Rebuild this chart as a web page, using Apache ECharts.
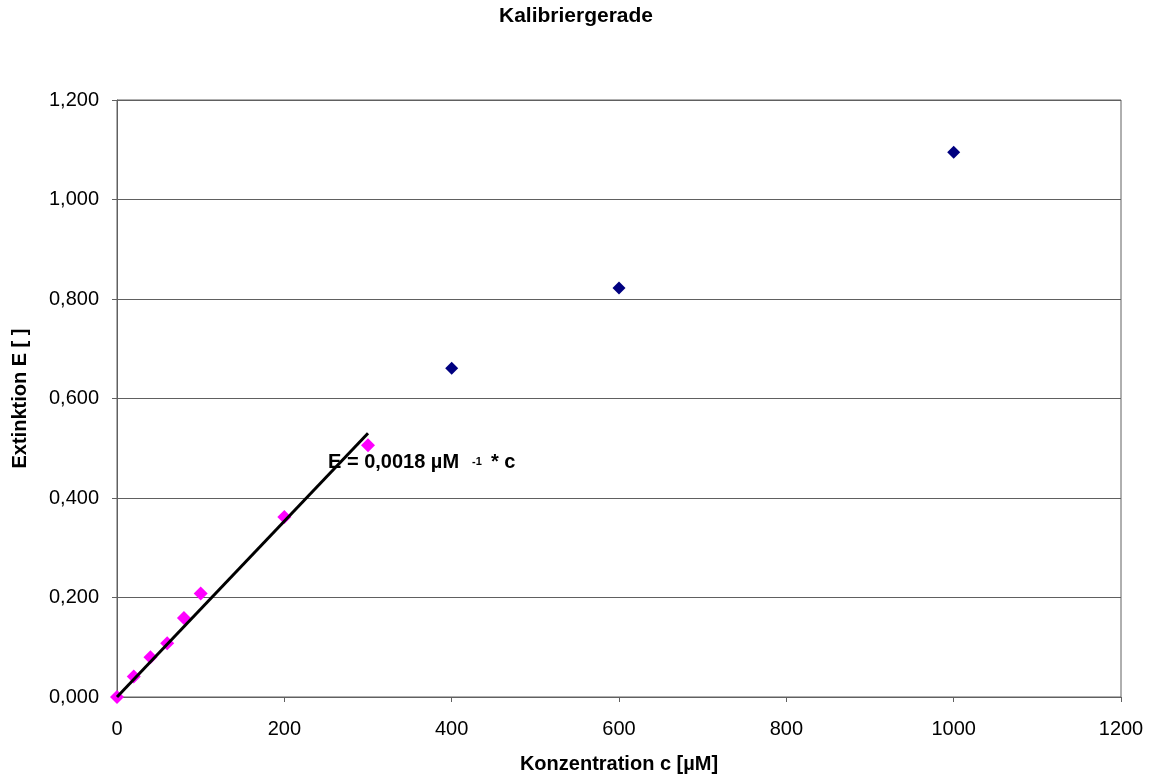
<!DOCTYPE html>
<html><head><meta charset="utf-8">
<script src="https://cdn.jsdelivr.net/npm/echarts@6/dist/echarts.min.js"></script>
<style>html,body{margin:0;padding:0;background:#fff}#c{width:1152px;height:782px}</style>
</head><body><div id="c"></div>
<script>
const calibX = [0, 20, 40, 60, 80, 100, 200, 300];
const calibY = [0.000, 0.041, 0.080, 0.108, 0.159, 0.208, 0.362, 0.506];
const highX = [400, 600, 1000];
const highY = [0.661, 0.822, 1.095];
const fitX = [0, 300];
const fitY = [0, 0.53];
const xTicks = [0, 200, 400, 600, 800, 1000, 1200];
const yTicks = [0, 0.2, 0.4, 0.6, 0.8, 1.0, 1.2];

const zip = (a, b) => a.map((v, i) => [v, b[i]]);
const font = '"Liberation Sans", Arial, sans-serif';
const gridCol = '#606060';
const chart = echarts.init(document.getElementById('c'));
chart.setOption({
  animation: false,
  backgroundColor: '#fff',
  title: {
    text: 'Kalibriergerade', left: 'center', top: 6, padding: 0,
    textStyle: { fontFamily: font, fontSize: 21, fontWeight: 'bold', color: '#000' }
  },
  grid: { left: 117, right: 31, top: 100, bottom: 85, show: true, borderColor: gridCol, borderWidth: 1 },
  xAxis: {
    type: 'value', min: xTicks[0], max: xTicks[xTicks.length - 1], interval: 200,
    name: 'Konzentration c [µM]', nameLocation: 'middle', nameGap: 57,
    nameTextStyle: { fontFamily: font, fontSize: 20, fontWeight: 'bold', color: '#000' },
    axisLine: { show: true, lineStyle: { color: gridCol, width: 1 } },
    axisTick: { show: true, inside: false, length: 5, lineStyle: { color: gridCol } },
    axisLabel: { fontFamily: font, fontSize: 20, color: '#000', margin: 22, formatter: v => String(v) },
    splitLine: { show: false }
  },
  yAxis: {
    type: 'value', min: yTicks[0], max: yTicks[yTicks.length - 1], interval: 0.2,
    name: 'Extinktion E [ ]', nameLocation: 'middle', nameGap: 87, nameRotate: 90,
    nameTextStyle: { fontFamily: font, fontSize: 20, fontWeight: 'bold', color: '#000' },
    axisLine: { show: true, lineStyle: { color: gridCol, width: 1 } },
    axisTick: { show: true, inside: false, length: 5, lineStyle: { color: gridCol } },
    axisLabel: { fontFamily: font, fontSize: 20, color: '#000', margin: 18,
      formatter: v => v.toFixed(3).replace('.', ',') },
    splitLine: { show: true, lineStyle: { color: gridCol, width: 1 } }
  },
  series: [
    { type: 'scatter', data: zip(highX, highY), symbol: 'diamond', symbolSize: 13,
      itemStyle: { color: '#000080', opacity: 1 }, z: 3 },
    { type: 'scatter', data: zip(calibX, calibY), symbol: 'diamond', symbolSize: 14,
      itemStyle: { color: '#FF00FF', opacity: 1 }, z: 3 },
    { type: 'line', data: zip(fitX, fitY), symbol: 'none',
      lineStyle: { color: '#000', width: 3 }, z: 4 }
  ],
  graphic: [
    { type: 'text', left: 328, top: 452, z: 10,
      style: { text: 'E = 0,0018 µM', fontFamily: font, fontSize: 20, fontWeight: 'bold', fill: '#000' } },
    { type: 'text', left: 472, top: 456, z: 10,
      style: { text: '-1', fontFamily: font, fontSize: 11, fontWeight: 'bold', fill: '#000' } },
    { type: 'text', left: 491, top: 452, z: 10,
      style: { text: '* c', fontFamily: font, fontSize: 20, fontWeight: 'bold', fill: '#000' } }
  ]
});
</script></body></html>
